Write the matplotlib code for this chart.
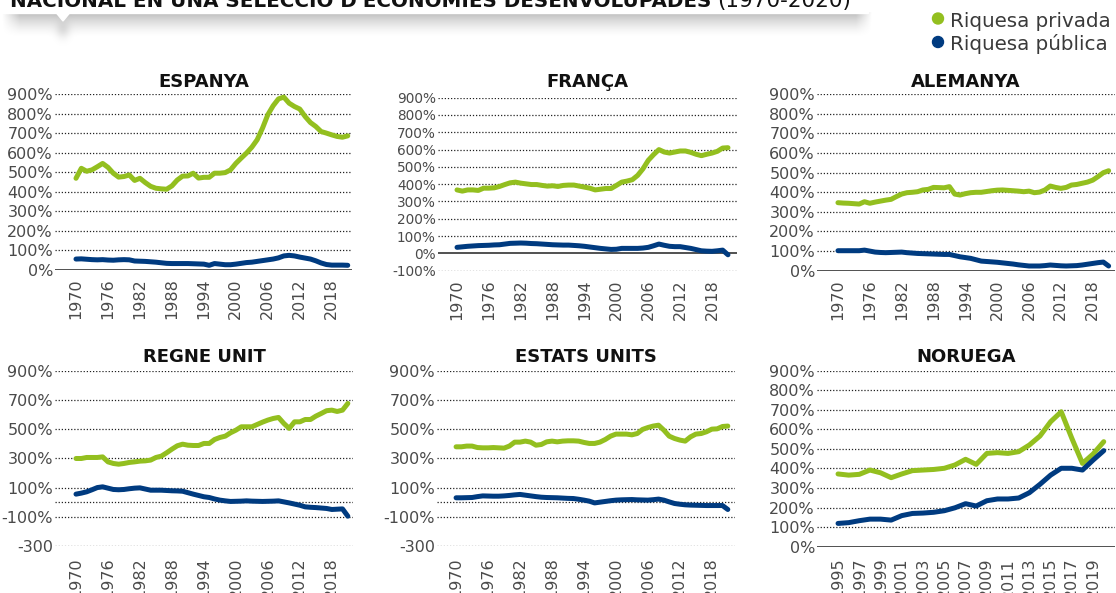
import numpy as np
import matplotlib
matplotlib.use('Agg')
import matplotlib.pyplot as plt
from matplotlib.patches import Rectangle, Polygon, Circle

# Riquesa nacional (% de la renda nacional), privada i pública
anys = list(range(1970, 2022))
anys_noruega = list(range(1995, 2021))

espanya_privada = [469, 520, 505, 512, 528, 545, 525, 495, 475, 478,
                   486, 458, 469, 447, 428, 418, 415, 413, 430, 460,
                   480, 481, 495, 470, 474, 474, 495, 495, 498, 512,
                   545, 572, 598, 628, 666, 725, 794, 840, 875, 884,
                   853, 836, 823, 785, 754, 734, 708, 700, 691, 683,
                   679, 686]
espanya_publica = [56, 57, 55, 53, 52, 53, 51, 50, 52, 53,
                   52, 46, 45, 44, 42, 40, 37, 34, 33, 33,
                   33, 33, 32, 31, 30, 24, 33, 30, 27, 27,
                   30, 34, 38, 40, 44, 48, 52, 56, 62, 72,
                   75, 72, 66, 61, 56, 47, 36, 28, 25, 25,
                   25, 24]

franca_privada = [367, 360, 367, 367, 364, 377, 377, 379, 387, 398,
                  408, 412, 406, 402, 398, 398, 393, 389, 391, 387,
                  393, 395, 395, 389, 383, 377, 367, 371, 375, 375,
                  393, 412, 418, 426, 451, 489, 538, 571, 600, 586,
                  580, 586, 592, 592, 584, 573, 565, 573, 580, 590,
                  609, 611]
franca_publica = [35, 38, 41, 43, 45, 46, 47, 49, 50, 54,
                  58, 59, 60, 59, 57, 56, 54, 52, 50, 49,
                  48, 48, 46, 44, 41, 37, 33, 29, 26, 23,
                  24, 29, 29, 29, 29, 31, 35, 44, 54, 47,
                  41, 39, 39, 34, 29, 22, 15, 13, 12, 15,
                  19, -8]

alemanya_privada = [347, 345, 344, 342, 340, 352, 344, 350, 355, 360,
                    364, 378, 391, 398, 400, 403, 412, 415, 425, 424,
                    423, 429, 391, 386, 393, 398, 400, 400, 404, 408,
                    411, 412, 410, 408, 406, 403, 406, 398, 401, 412,
                    432, 425, 420, 425, 437, 440, 446, 452, 462, 480,
                    500, 510]
alemanya_publica = [102, 102, 102, 102, 102, 105, 100, 95, 93, 92,
                    93, 94, 95, 92, 90, 88, 87, 86, 85, 84,
                    83, 83, 77, 71, 67, 63, 56, 49, 47, 45,
                    43, 40, 37, 34, 30, 27, 24, 24, 24, 26,
                    29, 27, 25, 24, 25, 26, 29, 33, 37, 41,
                    44, 24]

regne_privada = [299, 299, 306, 306, 306, 310, 276, 265, 260, 265,
                 272, 276, 281, 283, 288, 306, 315, 338, 363, 386,
                 397, 390, 388, 388, 402, 402, 429, 443, 452, 475,
                 493, 516, 516, 516, 532, 548, 562, 573, 580, 539,
                 505, 550, 550, 566, 566, 589, 607, 626, 630, 621,
                 630, 676]
regne_publica = [55, 62, 71, 85, 100, 105, 96, 87, 85, 87,
                 92, 96, 98, 90, 82, 82, 82, 80, 78, 77,
                 75, 65, 55, 46, 37, 32, 22, 14, 9, 5,
                 6, 7, 9, 7, 6, 5, 6, 7, 9, 2,
                 -5, -13, -21, -32, -35, -37, -40, -43, -50, -48,
                 -46, -96]

eua_privada = [379, 379, 384, 384, 374, 372, 372, 374, 372, 370,
               384, 411, 411, 418, 411, 390, 395, 413, 418, 413,
               418, 420, 420, 418, 409, 402, 402, 411, 429, 452,
               466, 466, 466, 461, 470, 498, 511, 521, 527, 493,
               452, 436, 425, 418, 447, 466, 470, 482, 500, 502,
               518, 521]
eua_publica = [30, 30, 31, 32, 38, 43, 42, 41, 41, 43,
               46, 50, 53, 48, 43, 38, 34, 32, 31, 30,
               28, 26, 25, 20, 14, 7, -5, 0, 5, 10,
               14, 16, 17, 18, 16, 15, 14, 17, 21, 14,
               2, -9, -14, -18, -20, -21, -22, -23, -23, -23,
               -23, -50]

noruega_privada = [372, 366, 370, 392, 378, 353, 372, 389, 392, 395,
                   401, 418, 447, 421, 477, 481, 477, 486, 520, 566,
                   639, 690, 554, 426, 474, 537]
noruega_publica = [119, 123, 133, 141, 141, 136, 159, 170, 172, 176,
                   184, 199, 220, 208, 235, 244, 244, 249, 276, 319,
                   366, 401, 401, 392, 443, 491]

VERD = '#93BF1F'
BLAU = '#003B80'
GRIS = '#4a4a4a'

W, H = 1116, 593
fig = plt.figure(figsize=(W / 100, H / 100), dpi=100)
fig.patch.set_facecolor('white')

# capa de fons en píxels: capçalera amb ombra i llegenda
bg = fig.add_axes([0, 0, 1, 1])
bg.set_xlim(0, W)
bg.set_ylim(H, 0)
bg.axis('off')

ys = np.arange(12, 52) + 0.5
xs = np.arange(0, 880) + 0.5
fy = np.clip(1 - (ys - 12) / 26, 0, 1) ** 1.6
fx = np.clip((xs - 2) / 18, 0, 1) * np.clip((872 - xs) / 16, 0, 1)
alpha = 0.28 * np.outer(fy, fx)
alpha += 0.10 * np.outer(np.exp(-((ys - 30) / 9) ** 2), np.exp(-((xs - 63) / 7) ** 2))
ombra = np.zeros((len(ys), len(xs), 4))
ombra[..., 3] = np.clip(alpha, 0, 1)
bg.imshow(ombra, extent=(0, 880, 52, 12), aspect='auto', interpolation='bilinear', zorder=1)
bg.add_patch(Rectangle((0, -20), 868, 32.7, color='white', zorder=2))
bg.add_patch(Polygon([(56, 12.5), (70, 12.5), (63, 21)], closed=True, color='white', zorder=2))

fig.text(10 / W, 1 - 7 / H, "NACIONAL EN UNA SELECCIÓ D'ECONOMIES DESENVOLUPADES",
         fontsize=14.3, fontweight='bold', color='#111111', va='baseline', ha='left')
fig.text(717 / W, 1 - 7 / H, "(1970-2020)", fontsize=15.5, color='#111111',
         va='baseline', ha='left')

# llegenda
bg.add_patch(Circle((938, 18.5), 5.5, color=VERD, zorder=3))
bg.add_patch(Circle((938, 42), 5.5, color=BLAU, zorder=3))
bg.text(950, 27, 'Riquesa privada', fontsize=14.3, color='#3a3a3a', va='baseline', zorder=3)
bg.text(950, 50, 'Riquesa pública', fontsize=14.3, color='#3a3a3a', va='baseline', zorder=3)


def panell(l, r, t, b, titol, x, privada, publica, xlim, ylim, yticks, ylabels,
           xticks, zero_solid, label_size=11.5, title_pad=5.5, xpad=6):
    ax = fig.add_axes([l / W, 1 - b / H, (r - l) / W, (b - t) / H])
    for s in ax.spines.values():
        s.set_visible(False)
    ax.set_xlim(*xlim)
    ax.set_ylim(*ylim)
    for v in yticks:
        if v == 0 and zero_solid:
            continue
        ax.axhline(v, color='#222222', lw=0.9, ls=(0, (1, 1.5)), zorder=1)
    if zero_solid:
        ax.axhline(0, color='#333333', lw=1.2, zorder=1)
    else:
        ax.axhline(0, color='#222222', lw=0.9, ls=(0, (1, 1.5)), zorder=1)
    ax.plot(x, privada, color=VERD, lw=3.6, solid_capstyle='round', solid_joinstyle='round', zorder=3)
    ax.plot(x, publica, color=BLAU, lw=3.6, solid_capstyle='round', solid_joinstyle='round', zorder=4)
    ax.set_yticks(yticks)
    ax.set_yticklabels(ylabels)
    ax.set_xticks(xticks)
    ax.set_xticklabels([str(a) for a in xticks], rotation=90)
    ax.tick_params(axis='y', length=0, pad=1.5, labelsize=label_size, labelcolor=GRIS)
    ax.tick_params(axis='x', length=0, pad=xpad, labelsize=11.5, labelcolor=GRIS)
    ax.set_title(titol, fontsize=13, fontweight='bold', color='#111111', pad=title_pad)
    ax.patch.set_alpha(0)
    return ax


ticks_0_900 = list(range(0, 1000, 100))
labels_0_900 = [f'{v}%' for v in ticks_0_900]
ticks_fr = list(range(-100, 1000, 100))
labels_fr = [f'{v}%' for v in ticks_fr]
ticks_neg = [-300, -100, 100, 300, 500, 700, 900]
labels_neg = ['-300', '-100%', '100%', '300%', '500%', '700%', '900%']
xt = list(range(1970, 2021, 6))
xt_no = list(range(1995, 2020, 2))

panell(55, 352, 94, 270, 'ESPANYA', anys, espanya_privada, espanya_publica,
       (1966.06, 2021.8), (0, 900), ticks_0_900, labels_0_900, xt, True, title_pad=5)
panell(438, 737, 97.7, 270.7, 'FRANÇA', anys, franca_privada, franca_publica,
       (1966.42, 2022.7), (-100, 900), ticks_fr, labels_fr, xt, True,
       label_size=9.8, title_pad=8)
panell(817, 1115, 94.3, 270.7, 'ALEMANYA', anys, alemanya_privada, alemanya_publica,
       (1966.05, 2022.2), (0, 900), ticks_0_900, labels_0_900, xt, True)
panell(55, 353, 370.7, 546, 'REGNE UNIT', anys, regne_privada, regne_publica,
       (1966.06, 2021.97), (-300, 900), ticks_neg, labels_neg, xt, False,
       title_pad=6.5, xpad=8)
panell(437, 735, 370.7, 546, 'ESTATS UNITS', anys, eua_privada, eua_publica,
       (1966.42, 2022.35), (-300, 900), ticks_neg, labels_neg, xt, False,
       title_pad=6.5, xpad=8)
panell(817, 1115, 370.7, 546.7, 'NORUEGA', anys_noruega, noruega_privada, noruega_publica,
       (1993.02, 2021.06), (0, 900), ticks_0_900, labels_0_900, xt_no, True,
       title_pad=6.5, xpad=8)

fig.savefig('out.png', dpi=100)
